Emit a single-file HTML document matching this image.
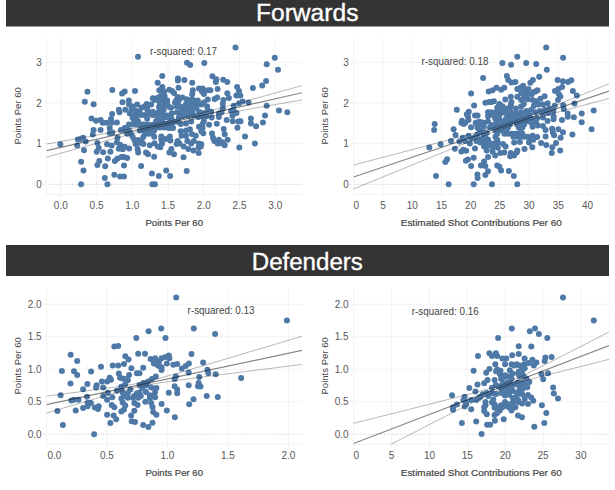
<!DOCTYPE html><html><head><meta charset="utf-8"><style>html,body{margin:0;padding:0;background:#fff;}svg{display:block;}text{font-family:"Liberation Sans", sans-serif;}</style></head><body>
<svg width="615" height="490" viewBox="0 0 615 490">
<rect width="615" height="490" fill="#fff"/>
<rect x="6" y="-5" width="603" height="31.5" fill="#333333"/>
<rect x="6" y="245" width="603" height="31" fill="#333333"/>
<text x="307.2" y="20.8" text-anchor="middle" font-size="24.4" fill="#fff" stroke="#fff" stroke-width="0.35" textLength="102.5" lengthAdjust="spacingAndGlyphs">Forwards</text>
<text x="307.3" y="270.4" text-anchor="middle" font-size="24.4" fill="#fff" stroke="#fff" stroke-width="0.35" textLength="111.1" lengthAdjust="spacingAndGlyphs">Defenders</text>
<line x1="60.80" y1="37.4" x2="60.80" y2="197.5" stroke="#d4d4d4" stroke-width="1" stroke-dasharray="1,1.6"/>
<line x1="96.55" y1="37.4" x2="96.55" y2="197.5" stroke="#f3f3f3" stroke-width="1"/>
<line x1="132.30" y1="37.4" x2="132.30" y2="197.5" stroke="#f3f3f3" stroke-width="1"/>
<line x1="168.05" y1="37.4" x2="168.05" y2="197.5" stroke="#f3f3f3" stroke-width="1"/>
<line x1="203.80" y1="37.4" x2="203.80" y2="197.5" stroke="#f3f3f3" stroke-width="1"/>
<line x1="239.55" y1="37.4" x2="239.55" y2="197.5" stroke="#f3f3f3" stroke-width="1"/>
<line x1="275.30" y1="37.4" x2="275.30" y2="197.5" stroke="#f3f3f3" stroke-width="1"/>
<line x1="43.3" y1="184.40" x2="302.0" y2="184.40" stroke="#c8c8c8" stroke-width="1" stroke-dasharray="1,1.6"/>
<line x1="43.3" y1="143.70" x2="302.0" y2="143.70" stroke="#f3f3f3" stroke-width="1"/>
<line x1="43.3" y1="103.00" x2="302.0" y2="103.00" stroke="#f3f3f3" stroke-width="1"/>
<line x1="43.3" y1="62.30" x2="302.0" y2="62.30" stroke="#f3f3f3" stroke-width="1"/>
<line x1="46.5" y1="37.4" x2="46.5" y2="194.3" stroke="#f3f3f3" stroke-width="1"/>
<line x1="46.5" y1="194.3" x2="302.0" y2="194.3" stroke="#f3f3f3" stroke-width="1"/>
<text x="60.80" y="208.8" text-anchor="middle" font-size="10" fill="#585858">0.0</text>
<text x="96.55" y="208.8" text-anchor="middle" font-size="10" fill="#585858">0.5</text>
<text x="132.30" y="208.8" text-anchor="middle" font-size="10" fill="#585858">1.0</text>
<text x="168.05" y="208.8" text-anchor="middle" font-size="10" fill="#585858">1.5</text>
<text x="203.80" y="208.8" text-anchor="middle" font-size="10" fill="#585858">2.0</text>
<text x="239.55" y="208.8" text-anchor="middle" font-size="10" fill="#585858">2.5</text>
<text x="275.30" y="208.8" text-anchor="middle" font-size="10" fill="#585858">3.0</text>
<text x="41.70" y="188.00" text-anchor="end" font-size="10" fill="#585858">0</text>
<text x="41.70" y="147.30" text-anchor="end" font-size="10" fill="#585858">1</text>
<text x="41.70" y="106.60" text-anchor="end" font-size="10" fill="#585858">2</text>
<text x="41.70" y="65.90" text-anchor="end" font-size="10" fill="#585858">3</text>
<text x="174.25" y="225.9" text-anchor="middle" font-size="9.8" fill="#444" stroke="#444" stroke-width="0.2" textLength="57.6" lengthAdjust="spacingAndGlyphs">Points Per 60</text>
<text transform="translate(21.2,115.85) rotate(-90)" x="0" y="0" text-anchor="middle" font-size="9.6" fill="#444" textLength="57.4" lengthAdjust="spacingAndGlyphs">Points Per 60</text>
<line x1="353.80" y1="37.4" x2="353.80" y2="197.5" stroke="#f3f3f3" stroke-width="1"/>
<line x1="383.01" y1="37.4" x2="383.01" y2="197.5" stroke="#f3f3f3" stroke-width="1"/>
<line x1="412.23" y1="37.4" x2="412.23" y2="197.5" stroke="#f3f3f3" stroke-width="1"/>
<line x1="441.44" y1="37.4" x2="441.44" y2="197.5" stroke="#f3f3f3" stroke-width="1"/>
<line x1="470.66" y1="37.4" x2="470.66" y2="197.5" stroke="#f3f3f3" stroke-width="1"/>
<line x1="499.88" y1="37.4" x2="499.88" y2="197.5" stroke="#f3f3f3" stroke-width="1"/>
<line x1="529.09" y1="37.4" x2="529.09" y2="197.5" stroke="#f3f3f3" stroke-width="1"/>
<line x1="558.31" y1="37.4" x2="558.31" y2="197.5" stroke="#f3f3f3" stroke-width="1"/>
<line x1="587.52" y1="37.4" x2="587.52" y2="197.5" stroke="#f3f3f3" stroke-width="1"/>
<line x1="350.3" y1="184.40" x2="609.0" y2="184.40" stroke="#c8c8c8" stroke-width="1" stroke-dasharray="1,1.6"/>
<line x1="350.3" y1="143.70" x2="609.0" y2="143.70" stroke="#f3f3f3" stroke-width="1"/>
<line x1="350.3" y1="103.00" x2="609.0" y2="103.00" stroke="#f3f3f3" stroke-width="1"/>
<line x1="350.3" y1="62.30" x2="609.0" y2="62.30" stroke="#f3f3f3" stroke-width="1"/>
<line x1="353.5" y1="37.4" x2="353.5" y2="194.3" stroke="#f3f3f3" stroke-width="1"/>
<line x1="353.5" y1="194.3" x2="609.0" y2="194.3" stroke="#f3f3f3" stroke-width="1"/>
<text x="353.50" y="208.8" text-anchor="start" font-size="10" fill="#585858">0</text>
<text x="383.01" y="208.8" text-anchor="middle" font-size="10" fill="#585858">5</text>
<text x="412.23" y="208.8" text-anchor="middle" font-size="10" fill="#585858">10</text>
<text x="441.44" y="208.8" text-anchor="middle" font-size="10" fill="#585858">15</text>
<text x="470.66" y="208.8" text-anchor="middle" font-size="10" fill="#585858">20</text>
<text x="499.88" y="208.8" text-anchor="middle" font-size="10" fill="#585858">25</text>
<text x="529.09" y="208.8" text-anchor="middle" font-size="10" fill="#585858">30</text>
<text x="558.31" y="208.8" text-anchor="middle" font-size="10" fill="#585858">35</text>
<text x="587.52" y="208.8" text-anchor="middle" font-size="10" fill="#585858">40</text>
<text x="348.70" y="188.00" text-anchor="end" font-size="10" fill="#585858">0</text>
<text x="348.70" y="147.30" text-anchor="end" font-size="10" fill="#585858">1</text>
<text x="348.70" y="106.60" text-anchor="end" font-size="10" fill="#585858">2</text>
<text x="348.70" y="65.90" text-anchor="end" font-size="10" fill="#585858">3</text>
<text x="481.25" y="225.9" text-anchor="middle" font-size="9.8" fill="#444" stroke="#444" stroke-width="0.2" textLength="161.0" lengthAdjust="spacingAndGlyphs">Estimated Shot Contributions Per 60</text>
<text transform="translate(328.3,115.85) rotate(-90)" x="0" y="0" text-anchor="middle" font-size="9.6" fill="#444" textLength="57.4" lengthAdjust="spacingAndGlyphs">Points Per 60</text>
<line x1="46.40" y1="287.4" x2="46.40" y2="447.5" stroke="#f3f3f3" stroke-width="1"/>
<line x1="106.90" y1="287.4" x2="106.90" y2="447.5" stroke="#f3f3f3" stroke-width="1"/>
<line x1="167.40" y1="287.4" x2="167.40" y2="447.5" stroke="#f3f3f3" stroke-width="1"/>
<line x1="227.90" y1="287.4" x2="227.90" y2="447.5" stroke="#f3f3f3" stroke-width="1"/>
<line x1="288.40" y1="287.4" x2="288.40" y2="447.5" stroke="#f3f3f3" stroke-width="1"/>
<line x1="43.3" y1="434.30" x2="302.0" y2="434.30" stroke="#c8c8c8" stroke-width="1" stroke-dasharray="1,1.6"/>
<line x1="43.3" y1="401.80" x2="302.0" y2="401.80" stroke="#f3f3f3" stroke-width="1"/>
<line x1="43.3" y1="369.30" x2="302.0" y2="369.30" stroke="#f3f3f3" stroke-width="1"/>
<line x1="43.3" y1="336.80" x2="302.0" y2="336.80" stroke="#f3f3f3" stroke-width="1"/>
<line x1="43.3" y1="304.30" x2="302.0" y2="304.30" stroke="#f3f3f3" stroke-width="1"/>
<line x1="46.5" y1="287.4" x2="46.5" y2="444.3" stroke="#f3f3f3" stroke-width="1"/>
<line x1="46.5" y1="444.3" x2="302.0" y2="444.3" stroke="#f3f3f3" stroke-width="1"/>
<text x="47.50" y="458.7" text-anchor="start" font-size="10" fill="#585858">0.0</text>
<text x="106.90" y="458.7" text-anchor="middle" font-size="10" fill="#585858">0.5</text>
<text x="167.40" y="458.7" text-anchor="middle" font-size="10" fill="#585858">1.0</text>
<text x="227.90" y="458.7" text-anchor="middle" font-size="10" fill="#585858">1.5</text>
<text x="288.40" y="458.7" text-anchor="middle" font-size="10" fill="#585858">2.0</text>
<text x="41.70" y="437.90" text-anchor="end" font-size="10" fill="#585858">0.0</text>
<text x="41.70" y="405.40" text-anchor="end" font-size="10" fill="#585858">0.5</text>
<text x="41.70" y="372.90" text-anchor="end" font-size="10" fill="#585858">1.0</text>
<text x="41.70" y="340.40" text-anchor="end" font-size="10" fill="#585858">1.5</text>
<text x="41.70" y="307.90" text-anchor="end" font-size="10" fill="#585858">2.0</text>
<text x="174.25" y="475.9" text-anchor="middle" font-size="9.8" fill="#444" stroke="#444" stroke-width="0.2" textLength="57.6" lengthAdjust="spacingAndGlyphs">Points Per 60</text>
<text transform="translate(21.2,365.85) rotate(-90)" x="0" y="0" text-anchor="middle" font-size="9.6" fill="#444" textLength="57.4" lengthAdjust="spacingAndGlyphs">Points Per 60</text>
<line x1="353.80" y1="287.4" x2="353.80" y2="447.5" stroke="#f3f3f3" stroke-width="1"/>
<line x1="391.65" y1="287.4" x2="391.65" y2="447.5" stroke="#f3f3f3" stroke-width="1"/>
<line x1="429.50" y1="287.4" x2="429.50" y2="447.5" stroke="#f3f3f3" stroke-width="1"/>
<line x1="467.35" y1="287.4" x2="467.35" y2="447.5" stroke="#f3f3f3" stroke-width="1"/>
<line x1="505.20" y1="287.4" x2="505.20" y2="447.5" stroke="#f3f3f3" stroke-width="1"/>
<line x1="543.05" y1="287.4" x2="543.05" y2="447.5" stroke="#f3f3f3" stroke-width="1"/>
<line x1="580.90" y1="287.4" x2="580.90" y2="447.5" stroke="#f3f3f3" stroke-width="1"/>
<line x1="350.3" y1="434.30" x2="609.0" y2="434.30" stroke="#c8c8c8" stroke-width="1" stroke-dasharray="1,1.6"/>
<line x1="350.3" y1="401.80" x2="609.0" y2="401.80" stroke="#f3f3f3" stroke-width="1"/>
<line x1="350.3" y1="369.30" x2="609.0" y2="369.30" stroke="#f3f3f3" stroke-width="1"/>
<line x1="350.3" y1="336.80" x2="609.0" y2="336.80" stroke="#f3f3f3" stroke-width="1"/>
<line x1="350.3" y1="304.30" x2="609.0" y2="304.30" stroke="#f3f3f3" stroke-width="1"/>
<line x1="353.5" y1="287.4" x2="353.5" y2="444.3" stroke="#f3f3f3" stroke-width="1"/>
<line x1="353.5" y1="444.3" x2="609.0" y2="444.3" stroke="#f3f3f3" stroke-width="1"/>
<text x="353.50" y="458.7" text-anchor="start" font-size="10" fill="#585858">0</text>
<text x="391.65" y="458.7" text-anchor="middle" font-size="10" fill="#585858">5</text>
<text x="429.50" y="458.7" text-anchor="middle" font-size="10" fill="#585858">10</text>
<text x="467.35" y="458.7" text-anchor="middle" font-size="10" fill="#585858">15</text>
<text x="505.20" y="458.7" text-anchor="middle" font-size="10" fill="#585858">20</text>
<text x="543.05" y="458.7" text-anchor="middle" font-size="10" fill="#585858">25</text>
<text x="580.90" y="458.7" text-anchor="middle" font-size="10" fill="#585858">30</text>
<text x="348.70" y="437.90" text-anchor="end" font-size="10" fill="#585858">0.0</text>
<text x="348.70" y="405.40" text-anchor="end" font-size="10" fill="#585858">0.5</text>
<text x="348.70" y="372.90" text-anchor="end" font-size="10" fill="#585858">1.0</text>
<text x="348.70" y="340.40" text-anchor="end" font-size="10" fill="#585858">1.5</text>
<text x="348.70" y="307.90" text-anchor="end" font-size="10" fill="#585858">2.0</text>
<text x="481.25" y="475.9" text-anchor="middle" font-size="9.8" fill="#444" stroke="#444" stroke-width="0.2" textLength="161.0" lengthAdjust="spacingAndGlyphs">Estimated Shot Contributions Per 60</text>
<text transform="translate(328.3,365.85) rotate(-90)" x="0" y="0" text-anchor="middle" font-size="9.6" fill="#444" textLength="57.4" lengthAdjust="spacingAndGlyphs">Points Per 60</text>
<defs>
<clipPath id="cTL"><rect x="46.5" y="37.4" width="255.5" height="156.9"/></clipPath>
<clipPath id="cTR"><rect x="353.5" y="37.4" width="255.5" height="156.9"/></clipPath>
<clipPath id="cBL"><rect x="46.5" y="287.4" width="255.5" height="156.90000000000003"/></clipPath>
<clipPath id="cBR"><rect x="353.5" y="287.4" width="255.5" height="156.90000000000003"/></clipPath>
</defs>
<g fill="#4e79a7">
<circle cx="87.4" cy="91.8" r="3"/>
<circle cx="112.3" cy="89.9" r="3"/>
<circle cx="122.1" cy="93.5" r="3"/>
<circle cx="124.7" cy="91.5" r="3"/>
<circle cx="84.8" cy="101.7" r="3"/>
<circle cx="93.6" cy="104.3" r="3"/>
<circle cx="122.5" cy="102.2" r="3"/>
<circle cx="118.8" cy="109.7" r="3"/>
<circle cx="119.5" cy="112.3" r="3"/>
<circle cx="125.3" cy="109.7" r="3"/>
<circle cx="112.1" cy="113.9" r="3"/>
<circle cx="91.5" cy="118.6" r="3"/>
<circle cx="96.1" cy="120.8" r="3"/>
<circle cx="100.6" cy="120.1" r="3"/>
<circle cx="102.6" cy="122.7" r="3"/>
<circle cx="106.5" cy="122.7" r="3"/>
<circle cx="111.0" cy="119.1" r="3"/>
<circle cx="111.7" cy="122.7" r="3"/>
<circle cx="116.9" cy="122.5" r="3"/>
<circle cx="100.6" cy="129.9" r="3"/>
<circle cx="93.5" cy="129.9" r="3"/>
<circle cx="92.8" cy="134.4" r="3"/>
<circle cx="109.7" cy="127.9" r="3"/>
<circle cx="109.7" cy="133.1" r="3"/>
<circle cx="112.3" cy="132.5" r="3"/>
<circle cx="120.8" cy="129.9" r="3"/>
<circle cx="124.7" cy="127.9" r="3"/>
<circle cx="117.5" cy="137.7" r="3"/>
<circle cx="77.9" cy="139.6" r="3"/>
<circle cx="83.1" cy="137.7" r="3"/>
<circle cx="85.7" cy="141.6" r="3"/>
<circle cx="60.3" cy="144.2" r="3"/>
<circle cx="97.4" cy="142.9" r="3"/>
<circle cx="116.9" cy="142.2" r="3"/>
<circle cx="107.1" cy="144.2" r="3"/>
<circle cx="80.5" cy="138.9" r="3"/>
<circle cx="77.2" cy="145.4" r="3"/>
<circle cx="84.0" cy="150.3" r="3"/>
<circle cx="98.7" cy="148.0" r="3"/>
<circle cx="96.7" cy="151.7" r="3"/>
<circle cx="103.2" cy="152.2" r="3"/>
<circle cx="111.7" cy="145.4" r="3"/>
<circle cx="110.4" cy="151.7" r="3"/>
<circle cx="120.1" cy="144.8" r="3"/>
<circle cx="118.8" cy="148.7" r="3"/>
<circle cx="122.7" cy="149.3" r="3"/>
<circle cx="124.7" cy="146.7" r="3"/>
<circle cx="107.8" cy="158.4" r="3"/>
<circle cx="99.3" cy="161.0" r="3"/>
<circle cx="97.4" cy="164.9" r="3"/>
<circle cx="105.2" cy="166.2" r="3"/>
<circle cx="114.9" cy="161.0" r="3"/>
<circle cx="117.5" cy="158.4" r="3"/>
<circle cx="121.4" cy="157.1" r="3"/>
<circle cx="124.0" cy="157.1" r="3"/>
<circle cx="124.0" cy="165.6" r="3"/>
<circle cx="81.1" cy="161.7" r="3"/>
<circle cx="83.5" cy="170.4" r="3"/>
<circle cx="114.3" cy="174.7" r="3"/>
<circle cx="120.1" cy="176.4" r="3"/>
<circle cx="124.0" cy="176.4" r="3"/>
<circle cx="104.8" cy="177.9" r="3"/>
<circle cx="81.1" cy="184.2" r="3"/>
<circle cx="107.4" cy="184.2" r="3"/>
<circle cx="138.0" cy="56.8" r="3"/>
<circle cx="187.0" cy="62.8" r="3"/>
<circle cx="190.2" cy="65.0" r="3"/>
<circle cx="162.3" cy="76.0" r="3"/>
<circle cx="157.7" cy="82.8" r="3"/>
<circle cx="162.3" cy="87.1" r="3"/>
<circle cx="161.6" cy="89.7" r="3"/>
<circle cx="164.2" cy="91.6" r="3"/>
<circle cx="177.9" cy="78.4" r="3"/>
<circle cx="177.9" cy="80.6" r="3"/>
<circle cx="184.4" cy="79.9" r="3"/>
<circle cx="192.2" cy="82.8" r="3"/>
<circle cx="169.4" cy="89.7" r="3"/>
<circle cx="172.0" cy="91.0" r="3"/>
<circle cx="174.0" cy="92.9" r="3"/>
<circle cx="178.5" cy="87.7" r="3"/>
<circle cx="192.8" cy="90.3" r="3"/>
<circle cx="192.2" cy="94.2" r="3"/>
<circle cx="135.0" cy="91.0" r="3"/>
<circle cx="159.3" cy="90.2" r="3"/>
<circle cx="152.8" cy="98.3" r="3"/>
<circle cx="157.7" cy="97.7" r="3"/>
<circle cx="128.8" cy="100.6" r="3"/>
<circle cx="137.2" cy="104.5" r="3"/>
<circle cx="129.1" cy="104.5" r="3"/>
<circle cx="146.7" cy="103.9" r="3"/>
<circle cx="151.2" cy="104.5" r="3"/>
<circle cx="131.4" cy="109.7" r="3"/>
<circle cx="136.3" cy="111.0" r="3"/>
<circle cx="141.5" cy="107.8" r="3"/>
<circle cx="144.7" cy="106.5" r="3"/>
<circle cx="147.3" cy="109.7" r="3"/>
<circle cx="152.8" cy="111.7" r="3"/>
<circle cx="159.0" cy="107.1" r="3"/>
<circle cx="158.4" cy="112.3" r="3"/>
<circle cx="133.0" cy="106.5" r="3"/>
<circle cx="139.5" cy="112.3" r="3"/>
<circle cx="129.8" cy="113.6" r="3"/>
<circle cx="149.3" cy="113.6" r="3"/>
<circle cx="199.0" cy="88.6" r="3"/>
<circle cx="177.6" cy="97.0" r="3"/>
<circle cx="182.4" cy="97.4" r="3"/>
<circle cx="186.7" cy="99.3" r="3"/>
<circle cx="164.6" cy="96.1" r="3"/>
<circle cx="160.7" cy="96.1" r="3"/>
<circle cx="167.2" cy="100.6" r="3"/>
<circle cx="175.0" cy="102.6" r="3"/>
<circle cx="178.9" cy="100.0" r="3"/>
<circle cx="186.0" cy="103.9" r="3"/>
<circle cx="191.9" cy="99.3" r="3"/>
<circle cx="193.8" cy="102.6" r="3"/>
<circle cx="197.7" cy="103.9" r="3"/>
<circle cx="163.9" cy="105.8" r="3"/>
<circle cx="171.1" cy="107.8" r="3"/>
<circle cx="176.9" cy="106.5" r="3"/>
<circle cx="181.5" cy="107.1" r="3"/>
<circle cx="187.3" cy="107.1" r="3"/>
<circle cx="191.2" cy="107.8" r="3"/>
<circle cx="196.4" cy="107.8" r="3"/>
<circle cx="162.6" cy="113.6" r="3"/>
<circle cx="171.7" cy="113.6" r="3"/>
<circle cx="176.9" cy="112.3" r="3"/>
<circle cx="182.8" cy="112.3" r="3"/>
<circle cx="188.0" cy="112.3" r="3"/>
<circle cx="199.0" cy="111.7" r="3"/>
<circle cx="192.5" cy="111.7" r="3"/>
<circle cx="163.9" cy="117.6" r="3"/>
<circle cx="168.5" cy="117.6" r="3"/>
<circle cx="171.7" cy="118.9" r="3"/>
<circle cx="178.9" cy="117.6" r="3"/>
<circle cx="182.8" cy="116.3" r="3"/>
<circle cx="188.0" cy="115.7" r="3"/>
<circle cx="193.8" cy="115.7" r="3"/>
<circle cx="198.4" cy="117.0" r="3"/>
<circle cx="180.8" cy="124.1" r="3"/>
<circle cx="186.0" cy="123.5" r="3"/>
<circle cx="191.2" cy="121.5" r="3"/>
<circle cx="162.6" cy="122.8" r="3"/>
<circle cx="167.2" cy="123.5" r="3"/>
<circle cx="171.7" cy="124.1" r="3"/>
<circle cx="163.9" cy="127.4" r="3"/>
<circle cx="168.5" cy="128.0" r="3"/>
<circle cx="173.0" cy="128.0" r="3"/>
<circle cx="199.0" cy="126.7" r="3"/>
<circle cx="180.8" cy="131.3" r="3"/>
<circle cx="186.0" cy="130.6" r="3"/>
<circle cx="189.9" cy="129.3" r="3"/>
<circle cx="191.9" cy="133.9" r="3"/>
<circle cx="195.8" cy="135.8" r="3"/>
<circle cx="186.0" cy="135.8" r="3"/>
<circle cx="181.5" cy="135.8" r="3"/>
<circle cx="169.8" cy="136.5" r="3"/>
<circle cx="170.4" cy="140.4" r="3"/>
<circle cx="165.9" cy="139.1" r="3"/>
<circle cx="161.3" cy="139.7" r="3"/>
<circle cx="162.0" cy="143.6" r="3"/>
<circle cx="177.6" cy="141.0" r="3"/>
<circle cx="179.5" cy="143.6" r="3"/>
<circle cx="187.3" cy="141.0" r="3"/>
<circle cx="191.2" cy="143.6" r="3"/>
<circle cx="199.0" cy="143.6" r="3"/>
<circle cx="193.8" cy="141.0" r="3"/>
<circle cx="161.3" cy="136.5" r="3"/>
<circle cx="129.1" cy="148.5" r="3"/>
<circle cx="127.2" cy="158.0" r="3"/>
<circle cx="135.6" cy="143.9" r="3"/>
<circle cx="137.6" cy="149.1" r="3"/>
<circle cx="138.2" cy="152.4" r="3"/>
<circle cx="143.4" cy="143.9" r="3"/>
<circle cx="146.0" cy="152.4" r="3"/>
<circle cx="148.0" cy="154.3" r="3"/>
<circle cx="149.9" cy="145.2" r="3"/>
<circle cx="154.5" cy="143.3" r="3"/>
<circle cx="157.7" cy="146.5" r="3"/>
<circle cx="160.3" cy="147.2" r="3"/>
<circle cx="171.4" cy="149.1" r="3"/>
<circle cx="169.4" cy="152.4" r="3"/>
<circle cx="174.0" cy="154.3" r="3"/>
<circle cx="176.6" cy="143.9" r="3"/>
<circle cx="183.7" cy="146.5" r="3"/>
<circle cx="188.3" cy="149.1" r="3"/>
<circle cx="193.5" cy="150.4" r="3"/>
<circle cx="198.7" cy="147.2" r="3"/>
<circle cx="198.7" cy="153.0" r="3"/>
<circle cx="154.1" cy="156.7" r="3"/>
<circle cx="183.5" cy="157.3" r="3"/>
<circle cx="141.1" cy="166.0" r="3"/>
<circle cx="151.9" cy="173.6" r="3"/>
<circle cx="158.8" cy="176.0" r="3"/>
<circle cx="166.2" cy="170.6" r="3"/>
<circle cx="170.1" cy="176.0" r="3"/>
<circle cx="186.7" cy="171.0" r="3"/>
<circle cx="152.3" cy="184.2" r="3"/>
<circle cx="154.9" cy="184.2" r="3"/>
<circle cx="235.5" cy="47.4" r="3"/>
<circle cx="204.3" cy="63.0" r="3"/>
<circle cx="274.8" cy="57.8" r="3"/>
<circle cx="266.7" cy="64.3" r="3"/>
<circle cx="278.0" cy="69.8" r="3"/>
<circle cx="212.4" cy="76.3" r="3"/>
<circle cx="216.3" cy="79.3" r="3"/>
<circle cx="215.9" cy="81.9" r="3"/>
<circle cx="223.2" cy="79.7" r="3"/>
<circle cx="227.3" cy="81.9" r="3"/>
<circle cx="202.6" cy="88.4" r="3"/>
<circle cx="202.0" cy="91.6" r="3"/>
<circle cx="207.8" cy="90.3" r="3"/>
<circle cx="210.4" cy="90.3" r="3"/>
<circle cx="217.6" cy="89.0" r="3"/>
<circle cx="227.3" cy="93.2" r="3"/>
<circle cx="237.1" cy="87.1" r="3"/>
<circle cx="239.0" cy="91.0" r="3"/>
<circle cx="236.4" cy="95.5" r="3"/>
<circle cx="252.9" cy="88.0" r="3"/>
<circle cx="262.2" cy="85.4" r="3"/>
<circle cx="266.1" cy="81.0" r="3"/>
<circle cx="203.9" cy="94.1" r="3"/>
<circle cx="214.6" cy="99.0" r="3"/>
<circle cx="217.2" cy="97.4" r="3"/>
<circle cx="228.9" cy="98.0" r="3"/>
<circle cx="223.4" cy="100.0" r="3"/>
<circle cx="222.8" cy="103.9" r="3"/>
<circle cx="222.8" cy="108.4" r="3"/>
<circle cx="221.5" cy="112.3" r="3"/>
<circle cx="218.9" cy="113.6" r="3"/>
<circle cx="207.8" cy="99.6" r="3"/>
<circle cx="203.9" cy="102.6" r="3"/>
<circle cx="201.3" cy="104.5" r="3"/>
<circle cx="207.2" cy="106.5" r="3"/>
<circle cx="207.8" cy="110.4" r="3"/>
<circle cx="203.9" cy="113.0" r="3"/>
<circle cx="211.1" cy="111.7" r="3"/>
<circle cx="233.8" cy="105.8" r="3"/>
<circle cx="231.2" cy="111.0" r="3"/>
<circle cx="233.8" cy="111.0" r="3"/>
<circle cx="236.4" cy="113.0" r="3"/>
<circle cx="239.0" cy="103.2" r="3"/>
<circle cx="202.0" cy="116.3" r="3"/>
<circle cx="206.5" cy="116.3" r="3"/>
<circle cx="211.7" cy="117.6" r="3"/>
<circle cx="218.9" cy="117.0" r="3"/>
<circle cx="232.5" cy="115.7" r="3"/>
<circle cx="203.9" cy="120.9" r="3"/>
<circle cx="209.1" cy="124.8" r="3"/>
<circle cx="202.6" cy="124.1" r="3"/>
<circle cx="202.6" cy="128.0" r="3"/>
<circle cx="203.3" cy="133.2" r="3"/>
<circle cx="201.3" cy="131.3" r="3"/>
<circle cx="216.8" cy="123.8" r="3"/>
<circle cx="226.7" cy="119.9" r="3"/>
<circle cx="232.8" cy="121.2" r="3"/>
<circle cx="238.4" cy="121.5" r="3"/>
<circle cx="237.4" cy="127.7" r="3"/>
<circle cx="223.7" cy="129.0" r="3"/>
<circle cx="224.7" cy="134.2" r="3"/>
<circle cx="227.6" cy="139.7" r="3"/>
<circle cx="212.0" cy="133.5" r="3"/>
<circle cx="213.0" cy="137.8" r="3"/>
<circle cx="214.3" cy="141.0" r="3"/>
<circle cx="218.9" cy="139.7" r="3"/>
<circle cx="222.1" cy="142.3" r="3"/>
<circle cx="217.6" cy="143.6" r="3"/>
<circle cx="201.3" cy="144.3" r="3"/>
<circle cx="200.7" cy="146.5" r="3"/>
<circle cx="220.2" cy="143.3" r="3"/>
<circle cx="224.7" cy="145.2" r="3"/>
<circle cx="239.3" cy="147.4" r="3"/>
<circle cx="254.9" cy="143.6" r="3"/>
<circle cx="240.3" cy="95.4" r="3"/>
<circle cx="242.6" cy="101.6" r="3"/>
<circle cx="248.5" cy="102.6" r="3"/>
<circle cx="266.7" cy="105.8" r="3"/>
<circle cx="279.0" cy="110.4" r="3"/>
<circle cx="265.0" cy="115.6" r="3"/>
<circle cx="287.3" cy="112.3" r="3"/>
<circle cx="240.5" cy="121.3" r="3"/>
<circle cx="250.9" cy="118.5" r="3"/>
<circle cx="250.9" cy="123.4" r="3"/>
<circle cx="256.1" cy="126.2" r="3"/>
<circle cx="262.9" cy="122.4" r="3"/>
<circle cx="245.0" cy="136.6" r="3"/>
<circle cx="134.4" cy="115.0" r="3"/>
<circle cx="138.0" cy="115.0" r="3"/>
<circle cx="141.6" cy="115.0" r="3"/>
<circle cx="145.2" cy="115.0" r="3"/>
<circle cx="152.4" cy="115.0" r="3"/>
<circle cx="156.0" cy="115.0" r="3"/>
<circle cx="159.6" cy="115.0" r="3"/>
<circle cx="132.6" cy="118.1" r="3"/>
<circle cx="136.2" cy="118.1" r="3"/>
<circle cx="157.8" cy="118.1" r="3"/>
<circle cx="134.4" cy="121.2" r="3"/>
<circle cx="138.0" cy="121.2" r="3"/>
<circle cx="156.0" cy="121.2" r="3"/>
<circle cx="159.6" cy="121.2" r="3"/>
<circle cx="129.0" cy="124.4" r="3"/>
<circle cx="132.6" cy="124.4" r="3"/>
<circle cx="136.2" cy="124.4" r="3"/>
<circle cx="139.8" cy="124.4" r="3"/>
<circle cx="143.4" cy="124.4" r="3"/>
<circle cx="147.0" cy="124.4" r="3"/>
<circle cx="154.2" cy="124.4" r="3"/>
<circle cx="157.8" cy="124.4" r="3"/>
<circle cx="127.2" cy="127.5" r="3"/>
<circle cx="141.6" cy="127.5" r="3"/>
<circle cx="145.2" cy="127.5" r="3"/>
<circle cx="148.8" cy="127.5" r="3"/>
<circle cx="152.4" cy="127.5" r="3"/>
<circle cx="156.0" cy="127.5" r="3"/>
<circle cx="159.6" cy="127.5" r="3"/>
<circle cx="125.4" cy="130.6" r="3"/>
<circle cx="129.0" cy="130.6" r="3"/>
<circle cx="139.8" cy="130.6" r="3"/>
<circle cx="143.4" cy="130.6" r="3"/>
<circle cx="147.0" cy="130.6" r="3"/>
<circle cx="150.6" cy="130.6" r="3"/>
<circle cx="154.2" cy="130.6" r="3"/>
<circle cx="127.2" cy="133.7" r="3"/>
<circle cx="130.8" cy="133.7" r="3"/>
<circle cx="145.2" cy="133.7" r="3"/>
<circle cx="148.8" cy="133.7" r="3"/>
<circle cx="152.4" cy="133.7" r="3"/>
<circle cx="132.6" cy="136.8" r="3"/>
<circle cx="143.4" cy="136.8" r="3"/>
<circle cx="154.2" cy="136.8" r="3"/>
<circle cx="134.4" cy="139.9" r="3"/>
<circle cx="138.0" cy="139.9" r="3"/>
<circle cx="141.6" cy="139.9" r="3"/>
<circle cx="139.8" cy="143.1" r="3"/>
<circle cx="176.2" cy="100.6" r="3"/>
<circle cx="194.2" cy="100.6" r="3"/>
<circle cx="197.8" cy="100.6" r="3"/>
<circle cx="167.2" cy="103.7" r="3"/>
<circle cx="188.8" cy="103.7" r="3"/>
<circle cx="161.8" cy="106.8" r="3"/>
<circle cx="169.0" cy="106.8" r="3"/>
<circle cx="194.2" cy="106.8" r="3"/>
<circle cx="160.0" cy="109.9" r="3"/>
<circle cx="163.6" cy="109.9" r="3"/>
<circle cx="181.6" cy="109.9" r="3"/>
<circle cx="185.2" cy="109.9" r="3"/>
<circle cx="188.8" cy="109.9" r="3"/>
<circle cx="179.8" cy="113.1" r="3"/>
<circle cx="190.6" cy="113.1" r="3"/>
<circle cx="154.4" cy="100.0" r="3"/>
<circle cx="158.0" cy="100.0" r="3"/>
<circle cx="161.6" cy="100.0" r="3"/>
<circle cx="165.2" cy="100.0" r="3"/>
<circle cx="159.8" cy="103.1" r="3"/>
<circle cx="163.4" cy="103.1" r="3"/>
<circle cx="177.8" cy="103.1" r="3"/>
<circle cx="147.2" cy="106.2" r="3"/>
<circle cx="179.6" cy="106.2" r="3"/>
<circle cx="163.4" cy="115.6" r="3"/>
<circle cx="167.0" cy="115.6" r="3"/>
<circle cx="170.6" cy="115.6" r="3"/>
<circle cx="147.2" cy="118.7" r="3"/>
<circle cx="170.6" cy="121.8" r="3"/>
<circle cx="174.2" cy="121.8" r="3"/>
<circle cx="177.8" cy="121.8" r="3"/>
<circle cx="150.8" cy="124.9" r="3"/>
<circle cx="161.6" cy="124.9" r="3"/>
<circle cx="170.6" cy="128.1" r="3"/>
</g>
<g fill="#4e79a7">
<circle cx="483.1" cy="78.1" r="3"/>
<circle cx="471.1" cy="93.6" r="3"/>
<circle cx="488.7" cy="91.6" r="3"/>
<circle cx="546.2" cy="47.4" r="3"/>
<circle cx="563.1" cy="57.8" r="3"/>
<circle cx="517.3" cy="56.8" r="3"/>
<circle cx="502.4" cy="63.0" r="3"/>
<circle cx="511.1" cy="64.7" r="3"/>
<circle cx="526.2" cy="63.0" r="3"/>
<circle cx="536.2" cy="64.1" r="3"/>
<circle cx="546.8" cy="69.8" r="3"/>
<circle cx="506.9" cy="76.0" r="3"/>
<circle cx="508.2" cy="79.9" r="3"/>
<circle cx="511.5" cy="82.5" r="3"/>
<circle cx="515.4" cy="81.9" r="3"/>
<circle cx="539.2" cy="76.7" r="3"/>
<circle cx="532.9" cy="79.9" r="3"/>
<circle cx="530.3" cy="82.8" r="3"/>
<circle cx="557.6" cy="79.9" r="3"/>
<circle cx="562.8" cy="81.2" r="3"/>
<circle cx="568.0" cy="81.9" r="3"/>
<circle cx="492.6" cy="90.3" r="3"/>
<circle cx="496.5" cy="87.7" r="3"/>
<circle cx="501.1" cy="89.7" r="3"/>
<circle cx="504.3" cy="87.7" r="3"/>
<circle cx="517.3" cy="89.0" r="3"/>
<circle cx="523.2" cy="85.8" r="3"/>
<circle cx="525.8" cy="90.3" r="3"/>
<circle cx="527.7" cy="94.2" r="3"/>
<circle cx="521.2" cy="92.9" r="3"/>
<circle cx="535.5" cy="91.6" r="3"/>
<circle cx="537.5" cy="90.3" r="3"/>
<circle cx="531.6" cy="94.2" r="3"/>
<circle cx="555.0" cy="91.0" r="3"/>
<circle cx="558.3" cy="89.0" r="3"/>
<circle cx="562.2" cy="87.1" r="3"/>
<circle cx="558.9" cy="94.2" r="3"/>
<circle cx="510.8" cy="96.8" r="3"/>
<circle cx="517.3" cy="96.8" r="3"/>
<circle cx="544.6" cy="96.2" r="3"/>
<circle cx="571.3" cy="80.2" r="3"/>
<circle cx="485.4" cy="102.8" r="3"/>
<circle cx="474.1" cy="105.4" r="3"/>
<circle cx="456.8" cy="109.7" r="3"/>
<circle cx="468.8" cy="111.7" r="3"/>
<circle cx="467.9" cy="116.2" r="3"/>
<circle cx="475.0" cy="115.6" r="3"/>
<circle cx="477.6" cy="115.6" r="3"/>
<circle cx="488.0" cy="112.3" r="3"/>
<circle cx="488.0" cy="116.2" r="3"/>
<circle cx="462.0" cy="120.8" r="3"/>
<circle cx="461.4" cy="122.7" r="3"/>
<circle cx="465.3" cy="122.7" r="3"/>
<circle cx="468.5" cy="120.1" r="3"/>
<circle cx="471.1" cy="127.3" r="3"/>
<circle cx="475.7" cy="122.7" r="3"/>
<circle cx="480.2" cy="124.0" r="3"/>
<circle cx="484.1" cy="122.7" r="3"/>
<circle cx="488.0" cy="121.4" r="3"/>
<circle cx="434.7" cy="124.0" r="3"/>
<circle cx="434.1" cy="129.9" r="3"/>
<circle cx="453.6" cy="129.2" r="3"/>
<circle cx="455.5" cy="135.1" r="3"/>
<circle cx="440.6" cy="144.2" r="3"/>
<circle cx="451.0" cy="140.9" r="3"/>
<circle cx="459.4" cy="141.6" r="3"/>
<circle cx="462.7" cy="137.7" r="3"/>
<circle cx="468.5" cy="135.7" r="3"/>
<circle cx="471.1" cy="138.3" r="3"/>
<circle cx="475.0" cy="137.0" r="3"/>
<circle cx="476.3" cy="140.9" r="3"/>
<circle cx="480.9" cy="139.6" r="3"/>
<circle cx="483.5" cy="134.4" r="3"/>
<circle cx="486.7" cy="133.1" r="3"/>
<circle cx="488.0" cy="139.6" r="3"/>
<circle cx="485.4" cy="142.2" r="3"/>
<circle cx="469.8" cy="143.5" r="3"/>
<circle cx="480.2" cy="130.5" r="3"/>
<circle cx="477.6" cy="127.9" r="3"/>
<circle cx="520.6" cy="87.6" r="3"/>
<circle cx="528.4" cy="88.9" r="3"/>
<circle cx="523.8" cy="92.8" r="3"/>
<circle cx="521.2" cy="100.0" r="3"/>
<circle cx="523.8" cy="98.0" r="3"/>
<circle cx="527.7" cy="99.3" r="3"/>
<circle cx="505.3" cy="99.6" r="3"/>
<circle cx="511.5" cy="101.9" r="3"/>
<circle cx="510.8" cy="104.5" r="3"/>
<circle cx="493.9" cy="101.3" r="3"/>
<circle cx="491.3" cy="101.9" r="3"/>
<circle cx="499.4" cy="103.9" r="3"/>
<circle cx="497.2" cy="107.8" r="3"/>
<circle cx="495.9" cy="112.3" r="3"/>
<circle cx="491.3" cy="112.3" r="3"/>
<circle cx="501.1" cy="109.7" r="3"/>
<circle cx="506.3" cy="108.4" r="3"/>
<circle cx="510.8" cy="107.1" r="3"/>
<circle cx="516.0" cy="108.4" r="3"/>
<circle cx="521.2" cy="106.5" r="3"/>
<circle cx="523.8" cy="103.9" r="3"/>
<circle cx="526.4" cy="111.0" r="3"/>
<circle cx="521.2" cy="112.3" r="3"/>
<circle cx="516.0" cy="113.0" r="3"/>
<circle cx="510.8" cy="112.3" r="3"/>
<circle cx="505.6" cy="113.0" r="3"/>
<circle cx="500.4" cy="113.6" r="3"/>
<circle cx="533.3" cy="92.2" r="3"/>
<circle cx="540.4" cy="98.7" r="3"/>
<circle cx="536.5" cy="101.3" r="3"/>
<circle cx="532.6" cy="100.0" r="3"/>
<circle cx="558.0" cy="100.0" r="3"/>
<circle cx="547.6" cy="103.2" r="3"/>
<circle cx="543.0" cy="104.5" r="3"/>
<circle cx="538.5" cy="104.5" r="3"/>
<circle cx="533.9" cy="105.8" r="3"/>
<circle cx="531.3" cy="109.7" r="3"/>
<circle cx="535.2" cy="112.3" r="3"/>
<circle cx="539.8" cy="111.0" r="3"/>
<circle cx="545.0" cy="109.7" r="3"/>
<circle cx="549.5" cy="108.4" r="3"/>
<circle cx="554.7" cy="105.8" r="3"/>
<circle cx="553.4" cy="111.0" r="3"/>
<circle cx="548.2" cy="113.0" r="3"/>
<circle cx="543.0" cy="113.6" r="3"/>
<circle cx="563.2" cy="105.2" r="3"/>
<circle cx="563.8" cy="109.1" r="3"/>
<circle cx="567.7" cy="113.6" r="3"/>
<circle cx="560.4" cy="96.4" r="3"/>
<circle cx="572.9" cy="91.0" r="3"/>
<circle cx="576.8" cy="95.6" r="3"/>
<circle cx="574.5" cy="103.5" r="3"/>
<circle cx="593.7" cy="110.5" r="3"/>
<circle cx="581.7" cy="113.6" r="3"/>
<circle cx="573.9" cy="117.3" r="3"/>
<circle cx="567.7" cy="116.7" r="3"/>
<circle cx="553.6" cy="116.2" r="3"/>
<circle cx="553.6" cy="119.3" r="3"/>
<circle cx="562.0" cy="119.9" r="3"/>
<circle cx="581.7" cy="122.3" r="3"/>
<circle cx="552.1" cy="128.7" r="3"/>
<circle cx="558.3" cy="129.2" r="3"/>
<circle cx="563.0" cy="132.3" r="3"/>
<circle cx="591.6" cy="129.2" r="3"/>
<circle cx="572.4" cy="134.4" r="3"/>
<circle cx="463.7" cy="124.1" r="3"/>
<circle cx="481.2" cy="122.2" r="3"/>
<circle cx="477.3" cy="134.5" r="3"/>
<circle cx="482.5" cy="132.6" r="3"/>
<circle cx="465.0" cy="141.0" r="3"/>
<circle cx="485.1" cy="137.8" r="3"/>
<circle cx="483.2" cy="143.0" r="3"/>
<circle cx="489.0" cy="142.3" r="3"/>
<circle cx="483.8" cy="126.7" r="3"/>
<circle cx="532.0" cy="118.9" r="3"/>
<circle cx="537.2" cy="118.3" r="3"/>
<circle cx="543.0" cy="117.6" r="3"/>
<circle cx="547.6" cy="120.9" r="3"/>
<circle cx="532.6" cy="126.7" r="3"/>
<circle cx="537.8" cy="125.4" r="3"/>
<circle cx="543.0" cy="126.1" r="3"/>
<circle cx="545.6" cy="130.0" r="3"/>
<circle cx="545.6" cy="136.5" r="3"/>
<circle cx="552.8" cy="132.6" r="3"/>
<circle cx="554.1" cy="135.2" r="3"/>
<circle cx="560.6" cy="137.8" r="3"/>
<circle cx="532.6" cy="135.8" r="3"/>
<circle cx="537.2" cy="137.1" r="3"/>
<circle cx="533.3" cy="139.7" r="3"/>
<circle cx="541.1" cy="143.0" r="3"/>
<circle cx="556.0" cy="143.0" r="3"/>
<circle cx="546.3" cy="144.9" r="3"/>
<circle cx="531.3" cy="122.8" r="3"/>
<circle cx="535.9" cy="122.2" r="3"/>
<circle cx="429.3" cy="147.4" r="3"/>
<circle cx="454.9" cy="148.7" r="3"/>
<circle cx="461.4" cy="151.4" r="3"/>
<circle cx="463.3" cy="149.8" r="3"/>
<circle cx="466.2" cy="150.7" r="3"/>
<circle cx="475.0" cy="148.5" r="3"/>
<circle cx="480.2" cy="142.6" r="3"/>
<circle cx="484.1" cy="146.5" r="3"/>
<circle cx="486.7" cy="150.4" r="3"/>
<circle cx="488.0" cy="145.2" r="3"/>
<circle cx="447.1" cy="159.3" r="3"/>
<circle cx="445.4" cy="162.1" r="3"/>
<circle cx="465.9" cy="160.8" r="3"/>
<circle cx="467.9" cy="159.5" r="3"/>
<circle cx="473.7" cy="157.8" r="3"/>
<circle cx="471.1" cy="166.0" r="3"/>
<circle cx="480.9" cy="165.4" r="3"/>
<circle cx="484.1" cy="161.5" r="3"/>
<circle cx="485.4" cy="166.0" r="3"/>
<circle cx="488.0" cy="156.9" r="3"/>
<circle cx="436.0" cy="176.0" r="3"/>
<circle cx="477.4" cy="174.5" r="3"/>
<circle cx="477.6" cy="178.1" r="3"/>
<circle cx="485.4" cy="175.1" r="3"/>
<circle cx="488.0" cy="171.2" r="3"/>
<circle cx="448.6" cy="184.2" r="3"/>
<circle cx="473.7" cy="184.2" r="3"/>
<circle cx="492.6" cy="143.9" r="3"/>
<circle cx="497.8" cy="142.6" r="3"/>
<circle cx="503.0" cy="143.9" r="3"/>
<circle cx="505.6" cy="146.5" r="3"/>
<circle cx="492.6" cy="151.7" r="3"/>
<circle cx="495.2" cy="155.6" r="3"/>
<circle cx="500.4" cy="153.0" r="3"/>
<circle cx="504.3" cy="152.4" r="3"/>
<circle cx="510.2" cy="156.3" r="3"/>
<circle cx="514.1" cy="155.6" r="3"/>
<circle cx="510.8" cy="153.0" r="3"/>
<circle cx="517.3" cy="150.4" r="3"/>
<circle cx="516.7" cy="152.4" r="3"/>
<circle cx="514.1" cy="142.6" r="3"/>
<circle cx="519.9" cy="142.0" r="3"/>
<circle cx="524.5" cy="149.1" r="3"/>
<circle cx="529.0" cy="142.6" r="3"/>
<circle cx="532.3" cy="147.2" r="3"/>
<circle cx="552.4" cy="147.2" r="3"/>
<circle cx="560.2" cy="150.4" r="3"/>
<circle cx="551.8" cy="153.0" r="3"/>
<circle cx="497.2" cy="165.4" r="3"/>
<circle cx="499.4" cy="166.7" r="3"/>
<circle cx="501.1" cy="170.6" r="3"/>
<circle cx="508.9" cy="171.0" r="3"/>
<circle cx="513.8" cy="176.0" r="3"/>
<circle cx="492.0" cy="184.2" r="3"/>
<circle cx="517.3" cy="184.2" r="3"/>
<circle cx="497.8" cy="147.8" r="3"/>
<circle cx="492.6" cy="147.8" r="3"/>
<circle cx="489.0" cy="101.9" r="3"/>
<circle cx="466.9" cy="114.3" r="3"/>
<circle cx="490.0" cy="115.0" r="3"/>
<circle cx="493.6" cy="115.0" r="3"/>
<circle cx="497.2" cy="115.0" r="3"/>
<circle cx="508.0" cy="115.0" r="3"/>
<circle cx="511.6" cy="115.0" r="3"/>
<circle cx="515.2" cy="115.0" r="3"/>
<circle cx="518.8" cy="115.0" r="3"/>
<circle cx="522.4" cy="115.0" r="3"/>
<circle cx="526.0" cy="115.0" r="3"/>
<circle cx="529.6" cy="115.0" r="3"/>
<circle cx="499.0" cy="118.1" r="3"/>
<circle cx="509.8" cy="118.1" r="3"/>
<circle cx="513.4" cy="118.1" r="3"/>
<circle cx="517.0" cy="118.1" r="3"/>
<circle cx="520.6" cy="118.1" r="3"/>
<circle cx="524.2" cy="118.1" r="3"/>
<circle cx="527.8" cy="118.1" r="3"/>
<circle cx="497.2" cy="121.2" r="3"/>
<circle cx="500.8" cy="121.2" r="3"/>
<circle cx="504.4" cy="121.2" r="3"/>
<circle cx="508.0" cy="121.2" r="3"/>
<circle cx="511.6" cy="121.2" r="3"/>
<circle cx="515.2" cy="121.2" r="3"/>
<circle cx="518.8" cy="121.2" r="3"/>
<circle cx="522.4" cy="121.2" r="3"/>
<circle cx="526.0" cy="121.2" r="3"/>
<circle cx="529.6" cy="121.2" r="3"/>
<circle cx="495.4" cy="124.4" r="3"/>
<circle cx="499.0" cy="124.4" r="3"/>
<circle cx="502.6" cy="124.4" r="3"/>
<circle cx="506.2" cy="124.4" r="3"/>
<circle cx="509.8" cy="124.4" r="3"/>
<circle cx="517.0" cy="124.4" r="3"/>
<circle cx="520.6" cy="124.4" r="3"/>
<circle cx="524.2" cy="124.4" r="3"/>
<circle cx="490.0" cy="127.5" r="3"/>
<circle cx="493.6" cy="127.5" r="3"/>
<circle cx="497.2" cy="127.5" r="3"/>
<circle cx="500.8" cy="127.5" r="3"/>
<circle cx="504.4" cy="127.5" r="3"/>
<circle cx="508.0" cy="127.5" r="3"/>
<circle cx="518.8" cy="127.5" r="3"/>
<circle cx="522.4" cy="127.5" r="3"/>
<circle cx="495.4" cy="130.6" r="3"/>
<circle cx="499.0" cy="130.6" r="3"/>
<circle cx="502.6" cy="130.6" r="3"/>
<circle cx="506.2" cy="130.6" r="3"/>
<circle cx="520.6" cy="130.6" r="3"/>
<circle cx="497.2" cy="133.7" r="3"/>
<circle cx="504.4" cy="133.7" r="3"/>
<circle cx="508.0" cy="133.7" r="3"/>
<circle cx="511.6" cy="133.7" r="3"/>
<circle cx="515.2" cy="133.7" r="3"/>
<circle cx="518.8" cy="133.7" r="3"/>
<circle cx="522.4" cy="133.7" r="3"/>
<circle cx="495.4" cy="136.8" r="3"/>
<circle cx="513.4" cy="136.8" r="3"/>
<circle cx="517.0" cy="136.8" r="3"/>
<circle cx="520.6" cy="136.8" r="3"/>
<circle cx="524.2" cy="136.8" r="3"/>
<circle cx="527.8" cy="136.8" r="3"/>
<circle cx="497.2" cy="139.9" r="3"/>
<circle cx="529.6" cy="139.9" r="3"/>
<circle cx="495.4" cy="143.1" r="3"/>
<circle cx="498.8" cy="106.2" r="3"/>
<circle cx="502.4" cy="106.2" r="3"/>
<circle cx="504.2" cy="109.4" r="3"/>
<circle cx="495.2" cy="118.7" r="3"/>
<circle cx="506.0" cy="118.7" r="3"/>
<circle cx="479.0" cy="121.8" r="3"/>
<circle cx="477.2" cy="124.9" r="3"/>
<circle cx="491.6" cy="124.9" r="3"/>
</g>
<g fill="#4e79a7">
<circle cx="114.3" cy="346.5" r="3"/>
<circle cx="118.2" cy="345.9" r="3"/>
<circle cx="70.7" cy="354.7" r="3"/>
<circle cx="77.2" cy="361.1" r="3"/>
<circle cx="125.3" cy="356.3" r="3"/>
<circle cx="61.9" cy="371.0" r="3"/>
<circle cx="74.0" cy="371.2" r="3"/>
<circle cx="77.2" cy="374.9" r="3"/>
<circle cx="91.1" cy="371.6" r="3"/>
<circle cx="101.0" cy="366.7" r="3"/>
<circle cx="112.7" cy="365.6" r="3"/>
<circle cx="118.2" cy="365.6" r="3"/>
<circle cx="124.0" cy="364.1" r="3"/>
<circle cx="118.8" cy="373.6" r="3"/>
<circle cx="122.7" cy="378.4" r="3"/>
<circle cx="125.3" cy="379.0" r="3"/>
<circle cx="70.5" cy="383.6" r="3"/>
<circle cx="87.4" cy="384.0" r="3"/>
<circle cx="83.1" cy="389.2" r="3"/>
<circle cx="96.7" cy="385.3" r="3"/>
<circle cx="96.1" cy="387.5" r="3"/>
<circle cx="101.9" cy="381.4" r="3"/>
<circle cx="103.2" cy="387.5" r="3"/>
<circle cx="107.1" cy="381.6" r="3"/>
<circle cx="109.7" cy="377.7" r="3"/>
<circle cx="111.0" cy="379.7" r="3"/>
<circle cx="60.6" cy="395.3" r="3"/>
<circle cx="87.0" cy="396.8" r="3"/>
<circle cx="103.2" cy="395.9" r="3"/>
<circle cx="107.8" cy="392.7" r="3"/>
<circle cx="112.3" cy="397.2" r="3"/>
<circle cx="116.9" cy="390.7" r="3"/>
<circle cx="121.4" cy="389.4" r="3"/>
<circle cx="124.0" cy="395.9" r="3"/>
<circle cx="71.4" cy="400.4" r="3"/>
<circle cx="74.0" cy="399.8" r="3"/>
<circle cx="78.5" cy="399.8" r="3"/>
<circle cx="107.1" cy="399.8" r="3"/>
<circle cx="121.4" cy="398.5" r="3"/>
<circle cx="122.7" cy="402.4" r="3"/>
<circle cx="125.3" cy="405.6" r="3"/>
<circle cx="57.4" cy="411.1" r="3"/>
<circle cx="75.7" cy="410.4" r="3"/>
<circle cx="83.1" cy="408.0" r="3"/>
<circle cx="87.6" cy="406.3" r="3"/>
<circle cx="87.6" cy="403.0" r="3"/>
<circle cx="90.9" cy="403.0" r="3"/>
<circle cx="94.8" cy="407.6" r="3"/>
<circle cx="98.7" cy="406.3" r="3"/>
<circle cx="98.0" cy="408.9" r="3"/>
<circle cx="111.7" cy="405.0" r="3"/>
<circle cx="114.3" cy="407.2" r="3"/>
<circle cx="121.4" cy="411.5" r="3"/>
<circle cx="124.0" cy="409.5" r="3"/>
<circle cx="107.1" cy="414.7" r="3"/>
<circle cx="113.6" cy="415.4" r="3"/>
<circle cx="116.2" cy="419.3" r="3"/>
<circle cx="110.4" cy="422.9" r="3"/>
<circle cx="62.9" cy="424.9" r="3"/>
<circle cx="94.1" cy="434.2" r="3"/>
<circle cx="176.2" cy="297.4" r="3"/>
<circle cx="193.8" cy="328.6" r="3"/>
<circle cx="161.2" cy="328.6" r="3"/>
<circle cx="148.6" cy="331.2" r="3"/>
<circle cx="136.3" cy="338.0" r="3"/>
<circle cx="165.5" cy="338.0" r="3"/>
<circle cx="138.2" cy="353.7" r="3"/>
<circle cx="145.0" cy="353.7" r="3"/>
<circle cx="128.5" cy="359.5" r="3"/>
<circle cx="150.6" cy="358.9" r="3"/>
<circle cx="155.1" cy="358.2" r="3"/>
<circle cx="153.8" cy="363.4" r="3"/>
<circle cx="157.1" cy="364.7" r="3"/>
<circle cx="159.0" cy="361.5" r="3"/>
<circle cx="161.6" cy="358.2" r="3"/>
<circle cx="165.5" cy="356.9" r="3"/>
<circle cx="168.8" cy="355.6" r="3"/>
<circle cx="169.4" cy="358.2" r="3"/>
<circle cx="166.8" cy="363.4" r="3"/>
<circle cx="161.6" cy="367.3" r="3"/>
<circle cx="161.6" cy="369.9" r="3"/>
<circle cx="159.0" cy="366.0" r="3"/>
<circle cx="173.3" cy="364.7" r="3"/>
<circle cx="177.2" cy="364.1" r="3"/>
<circle cx="191.5" cy="354.0" r="3"/>
<circle cx="188.9" cy="363.4" r="3"/>
<circle cx="185.7" cy="366.0" r="3"/>
<circle cx="181.8" cy="368.6" r="3"/>
<circle cx="188.7" cy="372.5" r="3"/>
<circle cx="131.4" cy="368.2" r="3"/>
<circle cx="143.2" cy="367.7" r="3"/>
<circle cx="136.9" cy="373.2" r="3"/>
<circle cx="139.5" cy="373.2" r="3"/>
<circle cx="129.1" cy="375.1" r="3"/>
<circle cx="120.0" cy="377.7" r="3"/>
<circle cx="127.8" cy="380.3" r="3"/>
<circle cx="125.2" cy="384.2" r="3"/>
<circle cx="121.3" cy="386.8" r="3"/>
<circle cx="155.8" cy="376.4" r="3"/>
<circle cx="151.9" cy="379.0" r="3"/>
<circle cx="148.0" cy="381.6" r="3"/>
<circle cx="143.4" cy="382.9" r="3"/>
<circle cx="139.5" cy="384.9" r="3"/>
<circle cx="146.0" cy="385.5" r="3"/>
<circle cx="142.1" cy="388.1" r="3"/>
<circle cx="151.2" cy="387.5" r="3"/>
<circle cx="156.4" cy="388.1" r="3"/>
<circle cx="155.1" cy="392.0" r="3"/>
<circle cx="152.5" cy="395.9" r="3"/>
<circle cx="146.0" cy="392.0" r="3"/>
<circle cx="136.9" cy="393.3" r="3"/>
<circle cx="134.3" cy="395.9" r="3"/>
<circle cx="140.8" cy="395.9" r="3"/>
<circle cx="149.9" cy="397.9" r="3"/>
<circle cx="155.1" cy="397.2" r="3"/>
<circle cx="127.8" cy="393.3" r="3"/>
<circle cx="130.4" cy="389.4" r="3"/>
<circle cx="175.9" cy="376.4" r="3"/>
<circle cx="174.6" cy="379.0" r="3"/>
<circle cx="174.6" cy="386.2" r="3"/>
<circle cx="177.2" cy="389.4" r="3"/>
<circle cx="177.2" cy="393.3" r="3"/>
<circle cx="168.8" cy="392.7" r="3"/>
<circle cx="188.7" cy="385.3" r="3"/>
<circle cx="199.3" cy="377.1" r="3"/>
<circle cx="198.7" cy="382.9" r="3"/>
<circle cx="198.0" cy="386.2" r="3"/>
<circle cx="193.5" cy="399.2" r="3"/>
<circle cx="122.6" cy="392.6" r="3"/>
<circle cx="127.8" cy="397.8" r="3"/>
<circle cx="139.5" cy="392.6" r="3"/>
<circle cx="138.2" cy="397.8" r="3"/>
<circle cx="134.3" cy="403.0" r="3"/>
<circle cx="137.6" cy="405.0" r="3"/>
<circle cx="133.0" cy="397.8" r="3"/>
<circle cx="145.4" cy="401.7" r="3"/>
<circle cx="149.9" cy="395.2" r="3"/>
<circle cx="151.2" cy="403.0" r="3"/>
<circle cx="152.5" cy="406.9" r="3"/>
<circle cx="153.2" cy="412.1" r="3"/>
<circle cx="156.4" cy="414.7" r="3"/>
<circle cx="134.3" cy="410.8" r="3"/>
<circle cx="131.1" cy="415.4" r="3"/>
<circle cx="131.7" cy="421.2" r="3"/>
<circle cx="135.0" cy="421.9" r="3"/>
<circle cx="143.2" cy="424.9" r="3"/>
<circle cx="148.4" cy="427.1" r="3"/>
<circle cx="152.5" cy="422.8" r="3"/>
<circle cx="161.6" cy="404.0" r="3"/>
<circle cx="166.8" cy="410.4" r="3"/>
<circle cx="174.9" cy="417.3" r="3"/>
<circle cx="189.2" cy="404.3" r="3"/>
<circle cx="215.1" cy="334.1" r="3"/>
<circle cx="203.1" cy="362.4" r="3"/>
<circle cx="207.4" cy="369.7" r="3"/>
<circle cx="208.3" cy="373.2" r="3"/>
<circle cx="215.7" cy="374.2" r="3"/>
<circle cx="200.5" cy="386.6" r="3"/>
<circle cx="206.7" cy="395.9" r="3"/>
<circle cx="217.8" cy="397.0" r="3"/>
<circle cx="241.1" cy="378.0" r="3"/>
<circle cx="286.9" cy="320.5" r="3"/>
</g>
<g fill="#4e79a7">
<circle cx="511.8" cy="328.6" r="3"/>
<circle cx="498.1" cy="338.0" r="3"/>
<circle cx="518.7" cy="346.2" r="3"/>
<circle cx="478.0" cy="355.9" r="3"/>
<circle cx="489.4" cy="353.3" r="3"/>
<circle cx="492.0" cy="355.9" r="3"/>
<circle cx="495.9" cy="353.3" r="3"/>
<circle cx="497.2" cy="355.9" r="3"/>
<circle cx="502.4" cy="358.5" r="3"/>
<circle cx="506.3" cy="358.5" r="3"/>
<circle cx="512.2" cy="355.3" r="3"/>
<circle cx="518.7" cy="354.0" r="3"/>
<circle cx="593.8" cy="320.6" r="3"/>
<circle cx="529.8" cy="331.2" r="3"/>
<circle cx="535.0" cy="328.4" r="3"/>
<circle cx="538.9" cy="334.1" r="3"/>
<circle cx="547.3" cy="338.0" r="3"/>
<circle cx="531.3" cy="346.6" r="3"/>
<circle cx="524.6" cy="358.5" r="3"/>
<circle cx="532.4" cy="359.8" r="3"/>
<circle cx="545.4" cy="357.6" r="3"/>
<circle cx="551.6" cy="357.0" r="3"/>
<circle cx="473.6" cy="370.8" r="3"/>
<circle cx="489.4" cy="368.9" r="3"/>
<circle cx="486.2" cy="372.8" r="3"/>
<circle cx="495.3" cy="364.3" r="3"/>
<circle cx="497.2" cy="369.5" r="3"/>
<circle cx="500.5" cy="370.8" r="3"/>
<circle cx="501.1" cy="376.0" r="3"/>
<circle cx="505.0" cy="364.3" r="3"/>
<circle cx="511.5" cy="364.3" r="3"/>
<circle cx="516.7" cy="364.3" r="3"/>
<circle cx="518.0" cy="373.4" r="3"/>
<circle cx="487.5" cy="379.9" r="3"/>
<circle cx="484.2" cy="383.2" r="3"/>
<circle cx="477.5" cy="384.5" r="3"/>
<circle cx="469.3" cy="388.0" r="3"/>
<circle cx="475.4" cy="391.6" r="3"/>
<circle cx="494.6" cy="379.9" r="3"/>
<circle cx="495.9" cy="385.1" r="3"/>
<circle cx="492.0" cy="387.7" r="3"/>
<circle cx="498.5" cy="386.4" r="3"/>
<circle cx="502.4" cy="385.1" r="3"/>
<circle cx="507.6" cy="382.5" r="3"/>
<circle cx="511.5" cy="378.6" r="3"/>
<circle cx="512.8" cy="385.1" r="3"/>
<circle cx="518.0" cy="382.5" r="3"/>
<circle cx="452.0" cy="395.3" r="3"/>
<circle cx="464.7" cy="396.8" r="3"/>
<circle cx="463.4" cy="400.1" r="3"/>
<circle cx="456.9" cy="404.6" r="3"/>
<circle cx="453.0" cy="407.2" r="3"/>
<circle cx="466.0" cy="404.6" r="3"/>
<circle cx="471.2" cy="400.1" r="3"/>
<circle cx="479.0" cy="398.1" r="3"/>
<circle cx="482.9" cy="394.2" r="3"/>
<circle cx="486.8" cy="392.9" r="3"/>
<circle cx="485.5" cy="402.0" r="3"/>
<circle cx="484.2" cy="407.2" r="3"/>
<circle cx="493.3" cy="399.4" r="3"/>
<circle cx="494.6" cy="404.6" r="3"/>
<circle cx="497.2" cy="407.2" r="3"/>
<circle cx="492.0" cy="392.9" r="3"/>
<circle cx="501.1" cy="392.9" r="3"/>
<circle cx="505.0" cy="395.5" r="3"/>
<circle cx="505.0" cy="402.0" r="3"/>
<circle cx="510.2" cy="391.6" r="3"/>
<circle cx="512.8" cy="398.1" r="3"/>
<circle cx="518.0" cy="392.9" r="3"/>
<circle cx="518.0" cy="402.0" r="3"/>
<circle cx="508.9" cy="407.2" r="3"/>
<circle cx="515.4" cy="407.2" r="3"/>
<circle cx="502.4" cy="407.2" r="3"/>
<circle cx="471.2" cy="409.2" r="3"/>
<circle cx="536.4" cy="362.4" r="3"/>
<circle cx="533.8" cy="365.6" r="3"/>
<circle cx="528.6" cy="363.0" r="3"/>
<circle cx="514.3" cy="365.6" r="3"/>
<circle cx="519.5" cy="365.6" r="3"/>
<circle cx="524.1" cy="364.3" r="3"/>
<circle cx="524.7" cy="368.2" r="3"/>
<circle cx="509.8" cy="370.2" r="3"/>
<circle cx="512.4" cy="373.4" r="3"/>
<circle cx="518.9" cy="371.5" r="3"/>
<circle cx="522.1" cy="371.5" r="3"/>
<circle cx="519.5" cy="376.0" r="3"/>
<circle cx="523.4" cy="376.0" r="3"/>
<circle cx="503.9" cy="377.3" r="3"/>
<circle cx="503.3" cy="383.3" r="3"/>
<circle cx="509.8" cy="382.6" r="3"/>
<circle cx="516.3" cy="383.9" r="3"/>
<circle cx="522.8" cy="382.6" r="3"/>
<circle cx="529.3" cy="382.0" r="3"/>
<circle cx="527.3" cy="387.2" r="3"/>
<circle cx="506.5" cy="391.7" r="3"/>
<circle cx="507.2" cy="406.0" r="3"/>
<circle cx="511.7" cy="408.0" r="3"/>
<circle cx="513.0" cy="391.1" r="3"/>
<circle cx="519.5" cy="390.4" r="3"/>
<circle cx="522.1" cy="394.3" r="3"/>
<circle cx="516.9" cy="395.0" r="3"/>
<circle cx="522.1" cy="403.4" r="3"/>
<circle cx="524.7" cy="398.9" r="3"/>
<circle cx="528.0" cy="395.0" r="3"/>
<circle cx="531.2" cy="397.6" r="3"/>
<circle cx="533.2" cy="400.8" r="3"/>
<circle cx="528.0" cy="404.1" r="3"/>
<circle cx="519.5" cy="386.5" r="3"/>
<circle cx="511.1" cy="387.2" r="3"/>
<circle cx="506.5" cy="387.2" r="3"/>
<circle cx="544.7" cy="361.1" r="3"/>
<circle cx="522.6" cy="369.5" r="3"/>
<circle cx="526.5" cy="378.6" r="3"/>
<circle cx="541.5" cy="374.1" r="3"/>
<circle cx="548.0" cy="373.2" r="3"/>
<circle cx="543.2" cy="379.3" r="3"/>
<circle cx="525.2" cy="385.1" r="3"/>
<circle cx="522.6" cy="389.0" r="3"/>
<circle cx="553.2" cy="387.5" r="3"/>
<circle cx="553.8" cy="393.6" r="3"/>
<circle cx="558.0" cy="398.5" r="3"/>
<circle cx="541.9" cy="405.3" r="3"/>
<circle cx="453.0" cy="409.8" r="3"/>
<circle cx="464.7" cy="406.5" r="3"/>
<circle cx="466.0" cy="402.0" r="3"/>
<circle cx="476.4" cy="400.0" r="3"/>
<circle cx="484.2" cy="411.1" r="3"/>
<circle cx="486.8" cy="414.3" r="3"/>
<circle cx="485.5" cy="405.2" r="3"/>
<circle cx="492.0" cy="402.6" r="3"/>
<circle cx="494.6" cy="407.8" r="3"/>
<circle cx="494.6" cy="415.0" r="3"/>
<circle cx="497.2" cy="413.0" r="3"/>
<circle cx="499.8" cy="410.4" r="3"/>
<circle cx="501.1" cy="405.2" r="3"/>
<circle cx="507.6" cy="403.9" r="3"/>
<circle cx="511.5" cy="410.4" r="3"/>
<circle cx="512.8" cy="402.6" r="3"/>
<circle cx="518.0" cy="415.6" r="3"/>
<circle cx="518.0" cy="400.0" r="3"/>
<circle cx="461.9" cy="423.0" r="3"/>
<circle cx="476.2" cy="421.5" r="3"/>
<circle cx="487.1" cy="424.7" r="3"/>
<circle cx="490.1" cy="424.7" r="3"/>
<circle cx="494.9" cy="420.8" r="3"/>
<circle cx="503.7" cy="419.3" r="3"/>
<circle cx="481.6" cy="434.1" r="3"/>
<circle cx="546.3" cy="413.0" r="3"/>
<circle cx="522.0" cy="417.3" r="3"/>
<circle cx="544.3" cy="423.0" r="3"/>
<circle cx="534.3" cy="426.8" r="3"/>
<circle cx="496.0" cy="371.3" r="3"/>
<circle cx="499.9" cy="373.9" r="3"/>
<circle cx="505.1" cy="375.2" r="3"/>
<circle cx="501.2" cy="379.1" r="3"/>
<circle cx="507.7" cy="376.5" r="3"/>
<circle cx="501.9" cy="388.9" r="3"/>
<circle cx="509.0" cy="394.7" r="3"/>
<circle cx="480.4" cy="396.7" r="3"/>
<circle cx="488.2" cy="396.0" r="3"/>
<circle cx="496.0" cy="394.1" r="3"/>
<circle cx="563.0" cy="297.4" r="3"/>
</g>
<g clip-path="url(#cTL)" fill="none"><polyline points="46.5,144.05 50.8,143.30 55.0,142.54 59.3,141.79 63.5,141.03 67.8,140.28 72.0,139.52 76.3,138.76 80.6,138.00 84.8,137.24 89.1,136.48 93.3,135.71 97.6,134.95 101.9,134.18 106.1,133.41 110.4,132.63 114.6,131.85 118.9,131.07 123.2,130.29 127.4,129.49 131.7,128.69 135.9,127.88 140.2,127.06 144.4,126.23 148.7,125.39 153.0,124.52 157.2,123.64 161.5,122.73 165.7,121.80 170.0,120.84 174.2,119.86 178.5,118.85 182.8,117.81 187.0,116.76 191.3,115.68 195.5,114.59 199.8,113.49 204.1,112.37 208.3,111.25 212.6,110.12 216.8,108.98 221.1,107.83 225.3,106.68 229.6,105.53 233.9,104.38 238.1,103.22 242.4,102.06 246.6,100.89 250.9,99.73 255.2,98.56 259.4,97.39 263.7,96.22 267.9,95.05 272.2,93.88 276.4,92.71 280.7,91.54 285.0,90.36 289.2,89.19 293.5,88.01 297.7,86.84 302.0,85.66" stroke="#ffffff" stroke-opacity="0" stroke-width="0"/><polyline points="46.5,157.15 50.8,155.98 55.0,154.80 59.3,153.63 63.5,152.46 67.8,151.28 72.0,150.11 76.3,148.94 80.6,147.77 84.8,146.61 89.1,145.44 93.3,144.28 97.6,143.12 101.9,141.96 106.1,140.80 110.4,139.64 114.6,138.49 118.9,137.35 123.2,136.21 127.4,135.07 131.7,133.94 135.9,132.83 140.2,131.72 144.4,130.62 148.7,129.54 153.0,128.47 157.2,127.43 161.5,126.41 165.7,125.41 170.0,124.44 174.2,123.50 178.5,122.58 182.8,121.69 187.0,120.82 191.3,119.96 195.5,119.12 199.8,118.30 204.1,117.49 208.3,116.68 212.6,115.89 216.8,115.10 221.1,114.31 225.3,113.53 229.6,112.76 233.9,111.98 238.1,111.21 242.4,110.45 246.6,109.68 250.9,108.92 255.2,108.16 259.4,107.40 263.7,106.64 267.9,105.88 272.2,105.12 276.4,104.37 280.7,103.61 285.0,102.86 289.2,102.10 293.5,101.35 297.7,100.60 302.0,99.85" stroke="#ffffff" stroke-opacity="0" stroke-width="0"/><line x1="46.5" y1="150.60" x2="302.0" y2="92.75" stroke="#ffffff" stroke-opacity="0" stroke-width="0"/><polyline points="46.5,144.05 50.8,143.30 55.0,142.54 59.3,141.79 63.5,141.03 67.8,140.28 72.0,139.52 76.3,138.76 80.6,138.00 84.8,137.24 89.1,136.48 93.3,135.71 97.6,134.95 101.9,134.18 106.1,133.41 110.4,132.63 114.6,131.85 118.9,131.07 123.2,130.29 127.4,129.49 131.7,128.69 135.9,127.88 140.2,127.06 144.4,126.23 148.7,125.39 153.0,124.52 157.2,123.64 161.5,122.73 165.7,121.80 170.0,120.84 174.2,119.86 178.5,118.85 182.8,117.81 187.0,116.76 191.3,115.68 195.5,114.59 199.8,113.49 204.1,112.37 208.3,111.25 212.6,110.12 216.8,108.98 221.1,107.83 225.3,106.68 229.6,105.53 233.9,104.38 238.1,103.22 242.4,102.06 246.6,100.89 250.9,99.73 255.2,98.56 259.4,97.39 263.7,96.22 267.9,95.05 272.2,93.88 276.4,92.71 280.7,91.54 285.0,90.36 289.2,89.19 293.5,88.01 297.7,86.84 302.0,85.66" stroke="#000" stroke-opacity="0.36" stroke-width="0.8"/><polyline points="46.5,157.15 50.8,155.98 55.0,154.80 59.3,153.63 63.5,152.46 67.8,151.28 72.0,150.11 76.3,148.94 80.6,147.77 84.8,146.61 89.1,145.44 93.3,144.28 97.6,143.12 101.9,141.96 106.1,140.80 110.4,139.64 114.6,138.49 118.9,137.35 123.2,136.21 127.4,135.07 131.7,133.94 135.9,132.83 140.2,131.72 144.4,130.62 148.7,129.54 153.0,128.47 157.2,127.43 161.5,126.41 165.7,125.41 170.0,124.44 174.2,123.50 178.5,122.58 182.8,121.69 187.0,120.82 191.3,119.96 195.5,119.12 199.8,118.30 204.1,117.49 208.3,116.68 212.6,115.89 216.8,115.10 221.1,114.31 225.3,113.53 229.6,112.76 233.9,111.98 238.1,111.21 242.4,110.45 246.6,109.68 250.9,108.92 255.2,108.16 259.4,107.40 263.7,106.64 267.9,105.88 272.2,105.12 276.4,104.37 280.7,103.61 285.0,102.86 289.2,102.10 293.5,101.35 297.7,100.60 302.0,99.85" stroke="#000" stroke-opacity="0.36" stroke-width="0.8"/><line x1="46.5" y1="150.60" x2="302.0" y2="92.75" stroke="#000" stroke-opacity="0.47" stroke-width="1.2"/></g>
<g clip-path="url(#cTR)" fill="none"><polyline points="353.5,165.06 357.8,163.94 362.0,162.82 366.3,161.71 370.5,160.59 374.8,159.47 379.1,158.35 383.3,157.23 387.6,156.11 391.8,154.99 396.1,153.86 400.3,152.74 404.6,151.62 408.9,150.50 413.1,149.37 417.4,148.25 421.6,147.12 425.9,146.00 430.1,144.87 434.4,143.74 438.7,142.61 442.9,141.48 447.2,140.35 451.4,139.21 455.7,138.07 460.0,136.93 464.2,135.79 468.5,134.63 472.7,133.48 477.0,132.31 481.2,131.14 485.5,129.95 489.8,128.75 494.0,127.52 498.3,126.27 502.5,124.98 506.8,123.64 511.1,122.26 515.3,120.82 519.6,119.33 523.8,117.78 528.1,116.20 532.4,114.58 536.6,112.94 540.9,111.27 545.1,109.59 549.4,107.90 553.6,106.20 557.9,104.49 562.2,102.78 566.4,101.06 570.7,99.34 574.9,97.61 579.2,95.88 583.5,94.15 587.7,92.42 592.0,90.69 596.2,88.95 600.5,87.21 604.7,85.48 609.0,83.74" stroke="#ffffff" stroke-opacity="0" stroke-width="0"/><polyline points="353.5,189.01 357.8,187.26 362.0,185.52 366.3,183.77 370.5,182.03 374.8,180.29 379.1,178.54 383.3,176.80 387.6,175.06 391.8,173.31 396.1,171.57 400.3,169.83 404.6,168.09 408.9,166.35 413.1,164.61 417.4,162.87 421.6,161.13 425.9,159.39 430.1,157.66 434.4,155.92 438.7,154.19 442.9,152.46 447.2,150.73 451.4,149.00 455.7,147.27 460.0,145.55 464.2,143.84 468.5,142.12 472.7,140.42 477.0,138.72 481.2,137.03 485.5,135.35 489.8,133.70 494.0,132.06 498.3,130.45 502.5,128.87 506.8,127.34 511.1,125.87 515.3,124.44 519.6,123.07 523.8,121.75 528.1,120.47 532.4,119.23 536.6,118.01 540.9,116.81 545.1,115.62 549.4,114.45 553.6,113.29 557.9,112.13 562.2,110.98 566.4,109.84 570.7,108.70 574.9,107.56 579.2,106.43 583.5,105.29 587.7,104.16 592.0,103.03 596.2,101.90 600.5,100.78 604.7,99.65 609.0,98.53" stroke="#ffffff" stroke-opacity="0" stroke-width="0"/><line x1="353.5" y1="177.03" x2="609.0" y2="91.13" stroke="#ffffff" stroke-opacity="0" stroke-width="0"/><polyline points="353.5,165.06 357.8,163.94 362.0,162.82 366.3,161.71 370.5,160.59 374.8,159.47 379.1,158.35 383.3,157.23 387.6,156.11 391.8,154.99 396.1,153.86 400.3,152.74 404.6,151.62 408.9,150.50 413.1,149.37 417.4,148.25 421.6,147.12 425.9,146.00 430.1,144.87 434.4,143.74 438.7,142.61 442.9,141.48 447.2,140.35 451.4,139.21 455.7,138.07 460.0,136.93 464.2,135.79 468.5,134.63 472.7,133.48 477.0,132.31 481.2,131.14 485.5,129.95 489.8,128.75 494.0,127.52 498.3,126.27 502.5,124.98 506.8,123.64 511.1,122.26 515.3,120.82 519.6,119.33 523.8,117.78 528.1,116.20 532.4,114.58 536.6,112.94 540.9,111.27 545.1,109.59 549.4,107.90 553.6,106.20 557.9,104.49 562.2,102.78 566.4,101.06 570.7,99.34 574.9,97.61 579.2,95.88 583.5,94.15 587.7,92.42 592.0,90.69 596.2,88.95 600.5,87.21 604.7,85.48 609.0,83.74" stroke="#000" stroke-opacity="0.36" stroke-width="0.8"/><polyline points="353.5,189.01 357.8,187.26 362.0,185.52 366.3,183.77 370.5,182.03 374.8,180.29 379.1,178.54 383.3,176.80 387.6,175.06 391.8,173.31 396.1,171.57 400.3,169.83 404.6,168.09 408.9,166.35 413.1,164.61 417.4,162.87 421.6,161.13 425.9,159.39 430.1,157.66 434.4,155.92 438.7,154.19 442.9,152.46 447.2,150.73 451.4,149.00 455.7,147.27 460.0,145.55 464.2,143.84 468.5,142.12 472.7,140.42 477.0,138.72 481.2,137.03 485.5,135.35 489.8,133.70 494.0,132.06 498.3,130.45 502.5,128.87 506.8,127.34 511.1,125.87 515.3,124.44 519.6,123.07 523.8,121.75 528.1,120.47 532.4,119.23 536.6,118.01 540.9,116.81 545.1,115.62 549.4,114.45 553.6,113.29 557.9,112.13 562.2,110.98 566.4,109.84 570.7,108.70 574.9,107.56 579.2,106.43 583.5,105.29 587.7,104.16 592.0,103.03 596.2,101.90 600.5,100.78 604.7,99.65 609.0,98.53" stroke="#000" stroke-opacity="0.36" stroke-width="0.8"/><line x1="353.5" y1="177.03" x2="609.0" y2="91.13" stroke="#000" stroke-opacity="0.47" stroke-width="1.2"/></g>
<g clip-path="url(#cBL)" fill="none"><polyline points="46.5,396.06 50.8,395.51 55.0,394.97 59.3,394.43 63.5,393.89 67.8,393.34 72.0,392.80 76.3,392.25 80.6,391.70 84.8,391.14 89.1,390.59 93.3,390.03 97.6,389.47 101.9,388.90 106.1,388.32 110.4,387.73 114.6,387.13 118.9,386.52 123.2,385.88 127.4,385.21 131.7,384.50 135.9,383.73 140.2,382.89 144.4,381.99 148.7,381.00 153.0,379.95 157.2,378.85 161.5,377.71 165.7,376.53 170.0,375.34 174.2,374.13 178.5,372.91 182.8,371.68 187.0,370.44 191.3,369.19 195.5,367.94 199.8,366.69 204.1,365.44 208.3,364.18 212.6,362.92 216.8,361.66 221.1,360.39 225.3,359.13 229.6,357.86 233.9,356.60 238.1,355.33 242.4,354.06 246.6,352.80 250.9,351.53 255.2,350.26 259.4,348.99 263.7,347.72 267.9,346.45 272.2,345.18 276.4,343.91 280.7,342.63 285.0,341.36 289.2,340.09 293.5,338.82 297.7,337.55 302.0,336.27" stroke="#ffffff" stroke-opacity="0" stroke-width="0"/><polyline points="46.5,413.11 50.8,411.85 55.0,410.58 59.3,409.32 63.5,408.05 67.8,406.79 72.0,405.53 76.3,404.27 80.6,403.01 84.8,401.76 89.1,400.50 93.3,399.26 97.6,398.01 101.9,396.78 106.1,395.54 110.4,394.32 114.6,393.12 118.9,391.92 123.2,390.76 127.4,389.62 131.7,388.52 135.9,387.48 140.2,386.51 144.4,385.61 148.7,384.79 153.0,384.03 157.2,383.32 161.5,382.66 165.7,382.02 170.0,381.41 174.2,380.81 178.5,380.23 182.8,379.65 187.0,379.08 191.3,378.52 195.5,377.96 199.8,377.41 204.1,376.85 208.3,376.30 212.6,375.76 216.8,375.21 221.1,374.67 225.3,374.12 229.6,373.58 233.9,373.04 238.1,372.50 242.4,371.96 246.6,371.42 250.9,370.88 255.2,370.34 259.4,369.80 263.7,369.27 267.9,368.73 272.2,368.19 276.4,367.65 280.7,367.12 285.0,366.58 289.2,366.05 293.5,365.51 297.7,364.98 302.0,364.44" stroke="#ffffff" stroke-opacity="0" stroke-width="0"/><line x1="46.5" y1="404.58" x2="302.0" y2="350.36" stroke="#ffffff" stroke-opacity="0" stroke-width="0"/><polyline points="46.5,396.06 50.8,395.51 55.0,394.97 59.3,394.43 63.5,393.89 67.8,393.34 72.0,392.80 76.3,392.25 80.6,391.70 84.8,391.14 89.1,390.59 93.3,390.03 97.6,389.47 101.9,388.90 106.1,388.32 110.4,387.73 114.6,387.13 118.9,386.52 123.2,385.88 127.4,385.21 131.7,384.50 135.9,383.73 140.2,382.89 144.4,381.99 148.7,381.00 153.0,379.95 157.2,378.85 161.5,377.71 165.7,376.53 170.0,375.34 174.2,374.13 178.5,372.91 182.8,371.68 187.0,370.44 191.3,369.19 195.5,367.94 199.8,366.69 204.1,365.44 208.3,364.18 212.6,362.92 216.8,361.66 221.1,360.39 225.3,359.13 229.6,357.86 233.9,356.60 238.1,355.33 242.4,354.06 246.6,352.80 250.9,351.53 255.2,350.26 259.4,348.99 263.7,347.72 267.9,346.45 272.2,345.18 276.4,343.91 280.7,342.63 285.0,341.36 289.2,340.09 293.5,338.82 297.7,337.55 302.0,336.27" stroke="#000" stroke-opacity="0.36" stroke-width="0.8"/><polyline points="46.5,413.11 50.8,411.85 55.0,410.58 59.3,409.32 63.5,408.05 67.8,406.79 72.0,405.53 76.3,404.27 80.6,403.01 84.8,401.76 89.1,400.50 93.3,399.26 97.6,398.01 101.9,396.78 106.1,395.54 110.4,394.32 114.6,393.12 118.9,391.92 123.2,390.76 127.4,389.62 131.7,388.52 135.9,387.48 140.2,386.51 144.4,385.61 148.7,384.79 153.0,384.03 157.2,383.32 161.5,382.66 165.7,382.02 170.0,381.41 174.2,380.81 178.5,380.23 182.8,379.65 187.0,379.08 191.3,378.52 195.5,377.96 199.8,377.41 204.1,376.85 208.3,376.30 212.6,375.76 216.8,375.21 221.1,374.67 225.3,374.12 229.6,373.58 233.9,373.04 238.1,372.50 242.4,371.96 246.6,371.42 250.9,370.88 255.2,370.34 259.4,369.80 263.7,369.27 267.9,368.73 272.2,368.19 276.4,367.65 280.7,367.12 285.0,366.58 289.2,366.05 293.5,365.51 297.7,364.98 302.0,364.44" stroke="#000" stroke-opacity="0.36" stroke-width="0.8"/><line x1="46.5" y1="404.58" x2="302.0" y2="350.36" stroke="#000" stroke-opacity="0.47" stroke-width="1.2"/></g>
<g clip-path="url(#cBR)" fill="none"><polyline points="353.5,423.35 357.8,422.27 362.0,421.20 366.3,420.13 370.5,419.05 374.8,417.98 379.1,416.91 383.3,415.83 387.6,414.76 391.8,413.69 396.1,412.61 400.3,411.54 404.6,410.46 408.9,409.39 413.1,408.31 417.4,407.23 421.6,406.16 425.9,405.08 430.1,404.00 434.4,402.92 438.7,401.84 442.9,400.76 447.2,399.67 451.4,398.59 455.7,397.50 460.0,396.41 464.2,395.31 468.5,394.21 472.7,393.10 477.0,391.98 481.2,390.85 485.5,389.70 489.8,388.51 494.0,387.28 498.3,385.97 502.5,384.54 506.8,382.96 511.1,381.21 515.3,379.31 519.6,377.32 523.8,375.27 528.1,373.18 532.4,371.06 536.6,368.92 540.9,366.78 545.1,364.62 549.4,362.46 553.6,360.30 557.9,358.13 562.2,355.95 566.4,353.78 570.7,351.60 574.9,349.43 579.2,347.25 583.5,345.07 587.7,342.88 592.0,340.70 596.2,338.52 600.5,336.34 604.7,334.15 609.0,331.97" stroke="#ffffff" stroke-opacity="0" stroke-width="0"/><polyline points="353.5,463.53 357.8,461.34 362.0,459.16 366.3,456.97 370.5,454.78 374.8,452.60 379.1,450.41 383.3,448.23 387.6,446.04 391.8,443.85 396.1,441.67 400.3,439.48 404.6,437.30 408.9,435.11 413.1,432.93 417.4,430.75 421.6,428.57 425.9,426.38 430.1,424.20 434.4,422.02 438.7,419.84 442.9,417.67 447.2,415.49 451.4,413.32 455.7,411.15 460.0,408.98 464.2,406.81 468.5,404.66 472.7,402.51 477.0,400.36 481.2,398.24 485.5,396.13 489.8,394.05 494.0,392.03 498.3,390.08 502.5,388.24 506.8,386.57 511.1,385.06 515.3,383.70 519.6,382.43 523.8,381.22 528.1,380.05 532.4,378.91 536.6,377.78 540.9,376.67 545.1,375.57 549.4,374.47 553.6,373.37 557.9,372.28 562.2,371.20 566.4,370.11 570.7,369.03 574.9,367.95 579.2,366.87 583.5,365.79 587.7,364.71 592.0,363.63 596.2,362.55 600.5,361.48 604.7,360.40 609.0,359.33" stroke="#ffffff" stroke-opacity="0" stroke-width="0"/><line x1="353.5" y1="443.44" x2="609.0" y2="345.65" stroke="#ffffff" stroke-opacity="0" stroke-width="0"/><polyline points="353.5,423.35 357.8,422.27 362.0,421.20 366.3,420.13 370.5,419.05 374.8,417.98 379.1,416.91 383.3,415.83 387.6,414.76 391.8,413.69 396.1,412.61 400.3,411.54 404.6,410.46 408.9,409.39 413.1,408.31 417.4,407.23 421.6,406.16 425.9,405.08 430.1,404.00 434.4,402.92 438.7,401.84 442.9,400.76 447.2,399.67 451.4,398.59 455.7,397.50 460.0,396.41 464.2,395.31 468.5,394.21 472.7,393.10 477.0,391.98 481.2,390.85 485.5,389.70 489.8,388.51 494.0,387.28 498.3,385.97 502.5,384.54 506.8,382.96 511.1,381.21 515.3,379.31 519.6,377.32 523.8,375.27 528.1,373.18 532.4,371.06 536.6,368.92 540.9,366.78 545.1,364.62 549.4,362.46 553.6,360.30 557.9,358.13 562.2,355.95 566.4,353.78 570.7,351.60 574.9,349.43 579.2,347.25 583.5,345.07 587.7,342.88 592.0,340.70 596.2,338.52 600.5,336.34 604.7,334.15 609.0,331.97" stroke="#000" stroke-opacity="0.36" stroke-width="0.8"/><polyline points="353.5,463.53 357.8,461.34 362.0,459.16 366.3,456.97 370.5,454.78 374.8,452.60 379.1,450.41 383.3,448.23 387.6,446.04 391.8,443.85 396.1,441.67 400.3,439.48 404.6,437.30 408.9,435.11 413.1,432.93 417.4,430.75 421.6,428.57 425.9,426.38 430.1,424.20 434.4,422.02 438.7,419.84 442.9,417.67 447.2,415.49 451.4,413.32 455.7,411.15 460.0,408.98 464.2,406.81 468.5,404.66 472.7,402.51 477.0,400.36 481.2,398.24 485.5,396.13 489.8,394.05 494.0,392.03 498.3,390.08 502.5,388.24 506.8,386.57 511.1,385.06 515.3,383.70 519.6,382.43 523.8,381.22 528.1,380.05 532.4,378.91 536.6,377.78 540.9,376.67 545.1,375.57 549.4,374.47 553.6,373.37 557.9,372.28 562.2,371.20 566.4,370.11 570.7,369.03 574.9,367.95 579.2,366.87 583.5,365.79 587.7,364.71 592.0,363.63 596.2,362.55 600.5,361.48 604.7,360.40 609.0,359.33" stroke="#000" stroke-opacity="0.36" stroke-width="0.8"/><line x1="353.5" y1="443.44" x2="609.0" y2="345.65" stroke="#000" stroke-opacity="0.47" stroke-width="1.2"/></g>
<text x="150.0" y="54.6" font-size="10" fill="#444" textLength="67" lengthAdjust="spacingAndGlyphs">r-squared: 0.17</text>
<text x="421.4" y="65.4" font-size="10" fill="#444" textLength="67" lengthAdjust="spacingAndGlyphs">r-squared: 0.18</text>
<text x="187.6" y="313.5" font-size="10" fill="#444" textLength="67" lengthAdjust="spacingAndGlyphs">r-squared: 0.13</text>
<text x="411.7" y="314.9" font-size="10" fill="#444" textLength="67" lengthAdjust="spacingAndGlyphs">r-squared: 0.16</text>
</svg></body></html>
